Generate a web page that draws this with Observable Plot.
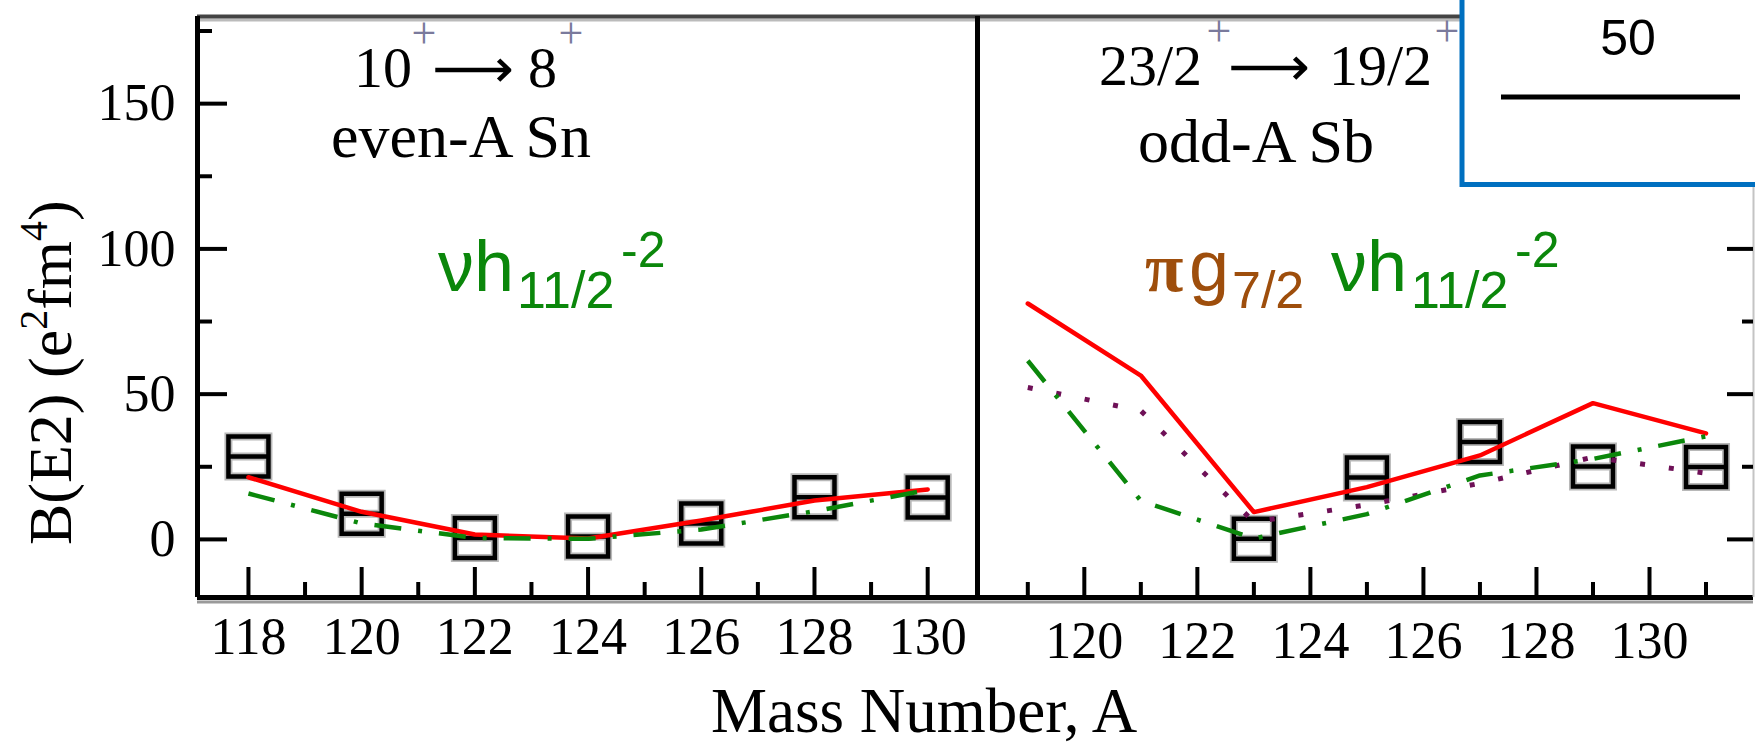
<!DOCTYPE html>
<html>
<head>
<meta charset="utf-8">
<script src="https://cdn.jsdelivr.net/npm/d3@7"></script>
<script src="https://cdn.jsdelivr.net/npm/@observablehq/plot@0.6"></script>
<style>
html, body { margin: 0; padding: 0; background: #fff; }
#chart { position: relative; width: 1755px; height: 746px; overflow: hidden; background: #fff; }
#chart > svg { position: absolute; top: 0; }
</style>
</head>
<body>
<div id="chart"></div>
<script>
// ---------- data ----------
// even-A Sn, 10+ -> 8+
const massSn   = [118, 120, 122, 124, 126, 128, 130];
const expSn    = [28.5, 8.8, 0.5, 1.0, 5.5, 14.5, 14.4];
const redSn    = [21.4, 9.5, 1.7, 0.3, 6.5, 13.4, 17.2];
const greenSn  = [15.8, 5.5, 0.5, 0.2, 3.4, 9.7, 17.0];

// odd-A Sb, 23/2+ -> 19/2+
const massSb    = [119, 121, 123, 125, 127, 129, 131];
const redSb     = [81.2, 56.4, 9.4, 18.0, 28.9, 46.9, 36.5];
const greenSb   = [61.5, 13.3, 0.3, 8.7, 22.0, 27.7, 35.5];
const purpleSb  = [52.3, 44.3, 6.0, 11.9, 19.3, 28.3, 22.8];
const massSbExp = [123, 125, 127, 129, 131];
const expSb     = [0.2, 21.3, 33.5, 25.1, 24.9];

// ticks & domains
const xTicksSnMajor = [118, 120, 122, 124, 126, 128, 130];
const xTicksSnMinor = [119, 121, 123, 125, 127, 129];
const xTicksSbMajor = [120, 122, 124, 126, 128, 130];
const xTicksSbMinor = [119, 121, 123, 125, 127, 129, 131];
const yTicksMajor = [0, 50, 100, 150];
const yTicksMinor = [25, 75, 125, 175];
const xDomainSn = [117.1, 130.88];
const xDomainSb = [118.11, 131.84];
const yDomain = [-20, 180];

// ---------- styles ----------
const SERIF = "'Liberation Serif', 'Times New Roman', serif";
const SANS = "'Liberation Sans', Arial, sans-serif";
const ARROWFONT = "'DejaVu Sans', sans-serif";
const RED = "#ff0000", GREEN = "#0b870b", PURPLE = "#6e1057", BROWN = "#9e4e0c";

// square marker with a horizontal line through its middle
const boxSymbol = {
  draw(ctx, size) {
    const h = Math.sqrt(size) / 2;
    ctx.moveTo(-h, -h); ctx.lineTo(h, -h); ctx.lineTo(h, h); ctx.lineTo(-h, h); ctx.closePath();
    ctx.moveTo(-h, 0); ctx.lineTo(h, 0);
  }
};
const BOX_R = 22.57;

const common = {
  height: 746, marginTop: 16, marginBottom: 149,
  style: {fontFamily: SERIF, fontSize: "52px", color: "black", background: "transparent", overflow: "visible"}
};

const frameMarks = () => [
  Plot.ruleY([yDomain[1]], {stroke: "#bbbbbb", strokeWidth: 3, dy: 3.5}),
  Plot.ruleY([yDomain[1]], {stroke: "#444444", strokeWidth: 4}),
  Plot.ruleY([yDomain[0]], {stroke: "#9a9a9a", strokeWidth: 3, dy: 4.5}),
  Plot.ruleY([yDomain[0]], {stroke: "black", strokeWidth: 5}),
];

const boxes = (xs, ys) => [
  Plot.dot(ys, {x: xs, y: d => d, symbol: boxSymbol, r: BOX_R, stroke: "#b8b8b8", strokeWidth: 8, fill: "none"}),
  Plot.dot(ys, {x: xs, y: d => d, symbol: boxSymbol, r: BOX_R, stroke: "black", strokeWidth: 4.5, fill: "none"})
];

// ---------- left panel: even-A Sn ----------
const left = Plot.plot({
  ...common,
  width: 977, marginLeft: 197, marginRight: 0,
  x: {domain: xDomainSn, ticks: xTicksSnMajor, tickSize: 0, tickPadding: 20, label: null, tickFormat: d => String(d)},
  y: {domain: yDomain, ticks: yTicksMajor, tickSize: 0, tickPadding: 22, label: null, tickFormat: d => String(d)},
  marks: [
    ...frameMarks(),
    Plot.ruleX([xDomainSn[0]], {stroke: "black", strokeWidth: 5}),
    Plot.ruleX([xDomainSn[1]], {stroke: "black", strokeWidth: 5}),
    Plot.tickX(xTicksSnMajor, {x: d => d, insetTop: 551, stroke: "black", strokeWidth: 4}),
    Plot.tickX(xTicksSnMinor, {x: d => d, insetTop: 566, stroke: "black", strokeWidth: 4}),
    Plot.tickY(yTicksMajor, {y: d => d, insetRight: 750, stroke: "black", strokeWidth: 4}),
    Plot.tickY(yTicksMinor, {y: d => d, insetRight: 765, stroke: "black", strokeWidth: 4}),
    ...boxes(massSn, expSn),
    Plot.lineY(redSn, {x: massSn, stroke: RED, strokeWidth: 4.5}),
    Plot.lineY(greenSn, {x: massSn, stroke: GREEN, strokeWidth: 4.5, strokeDasharray: "27,17,4,17", strokeLinecap: "butt"})
  ]
});
left.style.left = "0px";

// ---------- right panel: odd-A Sb ----------
const right = Plot.plot({
  ...common,
  width: 778, marginLeft: 0, marginRight: 2,
  x: {domain: xDomainSb, ticks: xTicksSbMajor, tickSize: 0, tickPadding: 24, label: null, tickFormat: d => String(d)},
  y: {domain: yDomain, axis: null},
  marks: [
    ...frameMarks(),
    Plot.ruleX([xDomainSb[0]], {stroke: "black", strokeWidth: 5}),
    Plot.ruleX([xDomainSb[1]], {stroke: "#c4c4c4", strokeWidth: 2}),
    Plot.tickX(xTicksSbMajor, {x: d => d, insetTop: 551, stroke: "black", strokeWidth: 4}),
    Plot.tickX(xTicksSbMinor, {x: d => d, insetTop: 566, stroke: "black", strokeWidth: 4}),
    Plot.tickY(yTicksMajor, {y: d => d, insetLeft: 750, stroke: "black", strokeWidth: 4}),
    Plot.tickY(yTicksMinor, {y: d => d, insetLeft: 765, stroke: "black", strokeWidth: 4}),
    ...boxes(massSbExp, expSb),
    Plot.lineY(redSb, {x: massSb, stroke: RED, strokeWidth: 4.5}),
    Plot.lineY(purpleSb, {x: massSb, stroke: PURPLE, strokeWidth: 5, strokeDasharray: "5,24", strokeLinecap: "butt"}),
    Plot.lineY(greenSb, {x: massSb, stroke: GREEN, strokeWidth: 4.5, strokeDasharray: "27,17,4,17", strokeLinecap: "butt"})
  ]
});
right.style.left = "977px";

const chart = document.getElementById("chart");
chart.appendChild(left);
chart.appendChild(right);

// ---------- annotation overlay ----------
const ov = d3.create("svg")
  .attr("width", 1755).attr("height", 746).attr("viewBox", "0 0 1755 746")
  .style("position", "absolute").style("left", "0px").style("top", "0px");

// one <text> per label; pieces are tspans placed at their own x / y
function rich(parts, base = {}) {
  const t = ov.append("text")
    .attr("font-family", base.family || SERIF)
    .attr("font-size", base.size || 62)
    .attr("fill", base.fill || "black");
  for (const p of parts) {
    const s = t.append("tspan").text(p.s).attr("x", p.x).attr("y", p.y);
    if (p.size) s.attr("font-size", p.size);
    if (p.family) s.attr("font-family", p.family);
    if (p.fill) s.attr("fill", p.fill);
    if (p.weight) s.attr("font-weight", p.weight);
    if (p.anchor) s.attr("text-anchor", p.anchor);
    if (p.len) s.attr("textLength", p.len).attr("lengthAdjust", "spacingAndGlyphs");
  }
  return t;
}
const PLUS = {size: 44, fill: "#7a7a9c", anchor: "middle"};
const ARROW = {family: ARROWFONT, size: 54, len: 82};

// left panel title
rich([
  {s: "10", x: 354, y: 87},
  {s: "+", x: 424, y: 48, ...PLUS},
  {s: "\u27F6", x: 432, y: 87, ...ARROW},
  {s: "8", x: 528, y: 87},
  {s: "+", x: 571, y: 48, ...PLUS}
], {size: 58});
rich([{s: "even-A Sn", x: 331, y: 157}]);

// right panel title
rich([
  {s: "23/2", x: 1099, y: 85},
  {s: "+", x: 1219, y: 46, ...PLUS},
  {s: "\u27F6", x: 1228, y: 85, ...ARROW},
  {s: "19/2", x: 1329, y: 85},
  {s: "+", x: 1447, y: 46, ...PLUS}
], {size: 58});
rich([{s: "odd-A Sb", x: 1138, y: 162}]);

// configuration labels
rich([
  {s: "\u03BDh", x: 438, y: 291, size: 72},
  {s: "11/2", x: 517, y: 308, size: 52},
  {s: "-2", x: 621, y: 267, size: 50}
], {family: SANS, fill: GREEN});

rich([
  {s: "\u03C0", x: 1145, y: 291, size: 70, family: SERIF, weight: "bold", fill: BROWN},
  {s: "g", x: 1189, y: 291, size: 72, fill: BROWN},
  {s: "7/2", x: 1232, y: 308, size: 52, fill: BROWN},
  {s: "\u03BDh", x: 1331, y: 291, size: 72},
  {s: "11/2", x: 1411, y: 308, size: 52},
  {s: "-2", x: 1515, y: 267, size: 50}
], {family: SANS, fill: GREEN});

// axis titles
const yl = ov.append("text").attr("transform", "translate(71,545) rotate(-90)")
  .attr("font-family", SERIF).attr("font-size", 62).attr("fill", "black");
yl.append("tspan").text("B(E2) (e");
yl.append("tspan").text("2").attr("font-size", 40).attr("dy", -24);
yl.append("tspan").text("fm").attr("dy", 24);
yl.append("tspan").text("4").attr("font-size", 40).attr("dy", -24);
yl.append("tspan").text(")").attr("dy", 24);

rich([{s: "Mass Number, A", x: 711, y: 732}], {size: 63});

// blue inset box (top right)
ov.append("rect").attr("x", 1462).attr("y", -10).attr("width", 320).attr("height", 194.5)
  .attr("fill", "white").attr("stroke", "#0070c0").attr("stroke-width", 5);
rich([{s: "50", x: 1628, y: 55, anchor: "middle"}], {family: SANS, size: 50});
ov.append("line").attr("x1", 1501).attr("x2", 1740).attr("y1", 97).attr("y2", 97)
  .attr("stroke", "black").attr("stroke-width", 5);

chart.appendChild(ov.node());
</script>
</body>
</html>
